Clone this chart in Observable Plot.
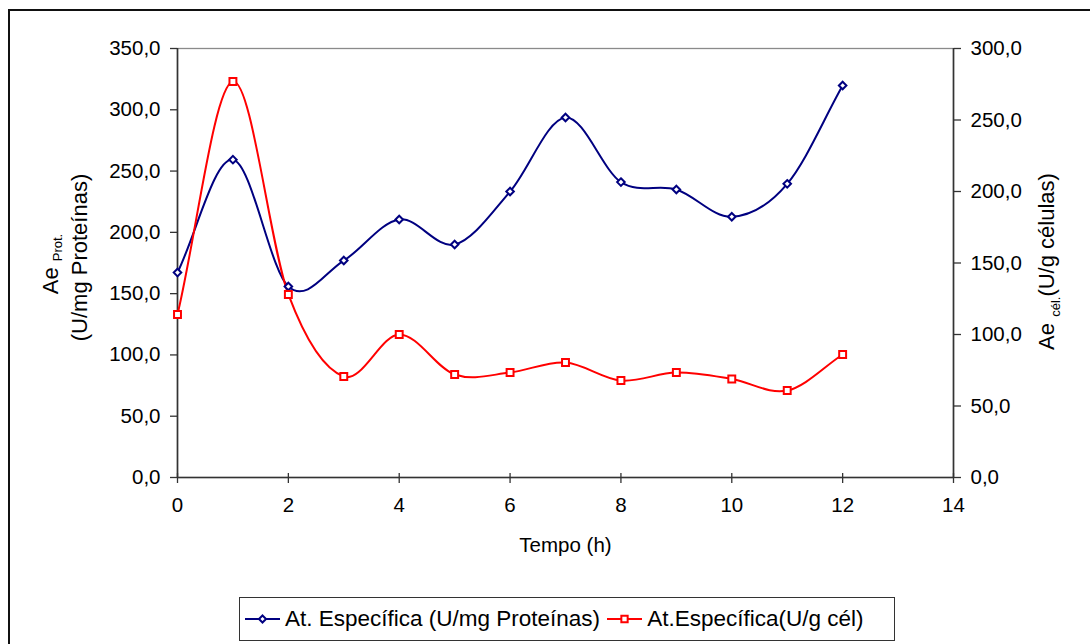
<!DOCTYPE html>
<html>
<head>
<meta charset="utf-8">
<script src="https://cdn.jsdelivr.net/npm/d3@7"></script>
<script src="https://cdn.jsdelivr.net/npm/@observablehq/plot@0.6"></script>
<style>
  html, body { margin: 0; padding: 0; background: #fff; overflow: hidden; width: 1090px; height: 644px; }
  body { position: relative; font-family: "Liberation Sans", Arial, sans-serif; color: #000; }
  #frame { position: absolute; left: 8px; top: 9px; width: 1200px; height: 800px; border: 2px solid #111; box-sizing: border-box; }
  #chart { position: absolute; left: 0; top: 0; }
  #legend { position: absolute; left: 239px; top: 597px; width: 656px; height: 44px; border: 1.5px solid #333; box-sizing: border-box;
            display: flex; align-items: center; padding-left: 4px; font-size: 22.5px; white-space: nowrap; }
  #legend .item { display: flex; align-items: center; }
  #legend .item + .item { margin-left: 6px; }
  #legend svg { margin-right: 4px; }
</style>
</head>
<body>
<div id="frame"></div>
<div id="chart"></div>
<div id="legend"></div>
<script>
// Sampling times (h)
const tempo = [0, 1, 2, 3, 4, 5, 6, 7, 8, 9, 10, 11, 12];
// Specific activity per mg of protein (left axis)
const atProt = [167.2, 259.3, 155.8, 177.0, 210.5, 190.1, 233.3, 293.7, 241.0, 235.0, 212.7, 239.6, 319.8];
// Specific activity per g of cells (right axis)
const atCel = [114.0, 276.9, 128.0, 70.6, 100.0, 72.0, 73.4, 80.4, 67.8, 73.4, 68.9, 60.8, 86.0];

// Axis ticks
const leftTicks = [0, 50, 100, 150, 200, 250, 300, 350];
const rightTicks = [0, 50, 100, 150, 200, 250, 300];
const xTicks = [0, 2, 4, 6, 8, 10, 12, 14];

const series = [
  {name: "At. Específica (U/mg Proteínas)", color: "#000080", symbol: "diamond2"},
  {name: "At.Específica(U/g cél)", color: "#ff0000", symbol: "square"}
];

// The right axis (0–300) is drawn on the left scale (0–350)
const k = 350 / 300;
const fmt = d => d3.format(".1f")(d).replace(".", ",");

const rows = tempo.map((t, i) => ({t, prot: atProt[i], cel: atCel[i] * k}));

// Smoothed line: uniform Catmull-Rom Béziers, with the end tangents
// taken from mirrored phantom points so the first and last spans follow their chord.
function curveSmooth(context) {
  let pts;
  return {
    areaStart() {}, areaEnd() {},
    lineStart() { pts = []; },
    point(x, y) { pts.push([+x, +y]); },
    lineEnd() {
      const n = pts.length;
      if (!n) return;
      context.moveTo(pts[0][0], pts[0][1]);
      if (n === 1) return;
      const P = i => {
        if (i < 0) return [2 * pts[0][0] - pts[1][0], 2 * pts[0][1] - pts[1][1]];
        if (i >= n) return [2 * pts[n - 1][0] - pts[n - 2][0], 2 * pts[n - 1][1] - pts[n - 2][1]];
        return pts[i];
      };
      for (let i = 0; i < n - 1; i++) {
        const p0 = P(i - 1), p1 = P(i), p2 = P(i + 1), p3 = P(i + 2);
        context.bezierCurveTo(
          p1[0] + (p2[0] - p0[0]) / 6, p1[1] + (p2[1] - p0[1]) / 6,
          p2[0] - (p3[0] - p1[0]) / 6, p2[1] - (p3[1] - p1[1]) / 6,
          p2[0], p2[1]
        );
      }
    }
  };
}

const plot = Plot.plot({
  width: 1090,
  height: 595,
  marginLeft: 177,
  marginRight: 137,
  marginTop: 48,
  marginBottom: 118,
  style: {fontFamily: "'Liberation Sans', Arial, sans-serif", fontSize: "20.5px", color: "#000", background: "transparent", overflow: "visible"},
  x: {domain: [0, 14], label: null},
  y: {domain: [0, 350], label: null},
  marks: [
    Plot.frame({stroke: "#8a8a8a", strokeWidth: 1.3}),
    Plot.axisY(leftTicks, {tickSize: 7, tickPadding: 10, tickFormat: fmt, stroke: "#333", strokeWidth: 1.3}),
    Plot.axisY(rightTicks.map(v => v * k), {anchor: "right", tickSize: 7, tickPadding: 10, tickFormat: d => fmt(d / k), stroke: "#333", strokeWidth: 1.3}),
    Plot.axisX(xTicks, {tickSize: 10, dy: -4, tickFormat: () => "", stroke: "#333", strokeWidth: 1.3}),
    Plot.axisX(xTicks, {tickSize: 0, tickPadding: 20}),
    Plot.ruleX([0, 14], {stroke: "#333", strokeWidth: 1.6}),
    Plot.ruleY([0], {stroke: "#333", strokeWidth: 1.6}),
    Plot.line(rows, {x: "t", y: "prot", stroke: series[0].color, strokeWidth: 2, curve: curveSmooth}),
    Plot.line(rows, {x: "t", y: "cel", stroke: series[1].color, strokeWidth: 2, curve: curveSmooth}),
    Plot.dot(rows, {x: "t", y: "prot", symbol: series[0].symbol, r: 3.4, stroke: series[0].color, fill: "white", strokeWidth: 2}),
    Plot.dot(rows, {x: "t", y: "cel", symbol: series[1].symbol, r: 3.9, stroke: series[1].color, fill: "white", strokeWidth: 2}),
    Plot.text(["Tempo (h)"], {frameAnchor: "bottom", dy: 74, fontSize: 20.5, fill: "#000"})
  ]
});

// Axis titles with subscripts
const svg = d3.select(plot);
const titles = svg.append("g").attr("font-size", 22).attr("fill", "#000").attr("text-anchor", "middle");

const l1 = titles.append("text").attr("transform", "translate(58,264) rotate(-90)");
l1.append("tspan").text("Ae ");
l1.append("tspan").attr("font-size", 13).attr("dy", 4).text("Prot.");

titles.append("text").attr("transform", "translate(87,257.5) rotate(-90)").text("(U/mg Proteínas)");

const r1 = titles.append("text").attr("transform", "translate(1054,261.5) rotate(-90)");
r1.append("tspan").text("Ae ");
r1.append("tspan").attr("font-size", 13).attr("dy", 6).text("cél.");
r1.append("tspan").attr("dy", -6).text("(U/g células)");

document.getElementById("chart").appendChild(plot);

// Legend
const legend = d3.select("#legend");
series.forEach(s => {
  const item = legend.append("div").attr("class", "item");
  const sw = item.append("svg").attr("width", 37).attr("height", 20);
  sw.append("line").attr("x1", 1).attr("x2", 36).attr("y1", 10).attr("y2", 10)
    .attr("stroke", s.color).attr("stroke-width", 2);
  const sym = s.symbol === "square" ? d3.symbolSquare : d3.symbolDiamond2;
  sw.append("path").attr("d", d3.symbol(sym, s.symbol === "square" ? 40 : 32)())
    .attr("transform", "translate(18.5,10)")
    .attr("fill", "white").attr("stroke", s.color).attr("stroke-width", 2);
  item.append("span").text(s.name);
});
</script>
</body>
</html>
